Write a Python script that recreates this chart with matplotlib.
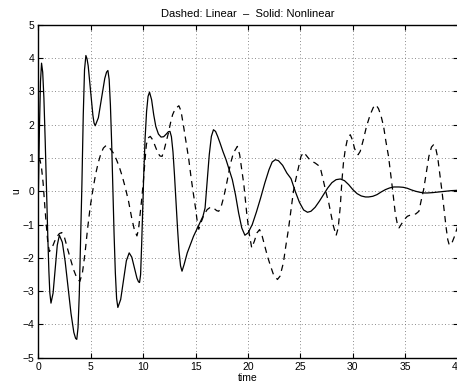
import matplotlib
matplotlib.use("Agg")
import matplotlib.pyplot as plt

# Nonlinear (solid) response
t_nonlinear = [0.0, 0.1, 0.2, 0.3, 0.41, 0.525, 0.65, 0.78, 0.9, 1.0, 1.09, 1.2,
               1.4, 1.6, 1.8, 2.0, 2.28, 2.55, 2.83, 3.11, 3.38, 3.55, 3.66,
               3.78, 3.9, 4.02, 4.15, 4.28, 4.4, 4.53, 4.64, 4.75, 4.97, 5.2, 5.31, 5.42,
               5.72, 6.03, 6.33, 6.5, 6.63, 6.75, 6.87, 6.99, 7.1, 7.22, 7.34, 7.46, 7.58,
               7.85, 8.12, 8.39, 8.66, 8.91, 9.16, 9.4, 9.55, 9.65,
               9.75, 9.85, 9.95, 10.05, 10.18, 10.32, 10.46, 10.6,
               10.8, 11.0, 11.2, 11.45, 11.7, 11.95, 12.2, 12.4, 12.55,
               12.69, 12.84, 12.98, 13.12, 13.27, 13.41, 13.56, 13.7,
               13.9, 14.2, 14.5, 14.8, 15.1, 15.4, 15.7, 15.9, 16.1, 16.3, 16.5, 16.7,
               16.9, 17.1, 17.33, 17.6, 17.9, 18.2, 18.5, 18.8, 19.1, 19.4, 19.7,
               20.0, 20.4, 20.8, 21.2, 21.6, 22.0, 22.3, 22.6,
               22.9, 23.3, 23.7, 24.1, 24.5, 24.9, 25.3, 25.67,
               26.0, 26.4, 26.8, 27.2, 27.6, 28.0, 28.4, 28.8,
               29.2, 29.6, 30.0, 30.4, 30.8, 31.2, 31.5,
               31.9, 32.3, 32.7, 33.1, 33.5, 33.9, 34.4,
               34.8, 35.2, 35.6, 36.0, 36.4, 36.8, 37.1,
               37.6, 38.2, 38.8, 39.4, 40.0]
u_nonlinear = [0.0, 1.9, 3.3, 3.85, 3.58, 2.8, 1.5, 0.0, -1.4, -2.4, -3.05, -3.36,
               -3.06, -2.34, -1.62, -1.32, -1.53, -2.1, -2.885, -3.67, -4.24, -4.42, -4.45,
               -4.1, -3.1, -1.5, 0.2, 2.3, 3.65, 4.08, 3.98, 3.77, 3.03, 2.28, 2.05, 1.97,
               2.21, 2.8, 3.39, 3.58, 3.63, 3.36, 2.59, 1.43, 0.07, -1.29, -2.45, -3.22, -3.49,
               -3.25, -2.67, -2.09, -1.85, -1.98, -2.3, -2.61, -2.72, -2.74,
               -2.5, -1.6, -0.5, 0.5, 1.6, 2.4, 2.85, 2.98,
               2.75, 2.3, 1.95, 1.72, 1.63, 1.64, 1.72, 1.79, 1.8,
               1.64, 1.18, 0.5, -0.3, -1.1, -1.78, -2.24, -2.4,
               -2.2, -1.85, -1.6, -1.35, -1.15, -0.95, -0.75, -0.5, 0.3, 1.1, 1.65, 1.85,
               1.8, 1.65, 1.45, 1.2, 0.95, 0.65, 0.35, -0.1, -0.65, -1.1, -1.32,
               -1.25, -1.0, -0.62, -0.2, 0.25, 0.65, 0.88, 0.95,
               0.92, 0.78, 0.55, 0.38, 0.0, -0.33, -0.56, -0.63,
               -0.6, -0.48, -0.3, -0.1, 0.1, 0.26, 0.35, 0.37,
               0.32, 0.2, 0.05, -0.07, -0.14, -0.17, -0.17,
               -0.15, -0.1, -0.02, 0.05, 0.1, 0.13, 0.13,
               0.12, 0.09, 0.04, 0.0, -0.03, -0.05, -0.05,
               -0.04, -0.02, 0.0, 0.02, 0.03]

# Linear (dashed) response
t_linear = [0.0, 0.15, 0.3, 0.45, 0.6, 0.75, 0.9, 1.05,
            1.3, 1.55, 1.8, 2.0, 2.23,
            2.5, 2.8, 3.03, 3.35, 3.66, 3.95,
            4.2, 4.45, 4.7, 4.95, 5.2, 5.45, 5.7, 5.95, 6.2, 6.47,
            6.8, 7.15, 7.45, 7.75, 8.0, 8.3, 8.6, 8.9, 9.15, 9.4,
            9.55, 9.7, 9.85, 10.0, 10.15, 10.3, 10.45, 10.67,
            10.9, 11.15, 11.4, 11.6, 11.8,
            12.0, 12.2, 12.4, 12.6, 12.8, 13.05, 13.4,
            13.6, 13.85, 14.1, 14.35, 14.55, 14.75, 14.97, 15.15, 15.3,
            15.5, 15.8, 16.1, 16.4, 16.7, 17.0, 17.2, 17.4, 17.7, 18.0, 18.3, 18.6, 18.98,
            19.2, 19.4, 19.6, 19.87, 20.1, 20.35,
            20.6, 20.85, 21.1,
            21.35, 21.6, 21.85, 22.1, 22.4, 22.8,
            23.05, 23.37, 23.6, 23.85, 24.1, 24.33, 24.55, 24.8, 25.05, 25.3,
            25.55, 25.8, 26.1, 26.4, 26.7, 26.9, 27.2, 27.45, 27.7, 27.95, 28.15, 28.4,
            28.6, 28.8, 28.95, 29.1, 29.27, 29.5, 29.75,
            29.95, 30.15, 30.35, 30.5,
            30.7, 31.0, 31.3, 31.65, 31.95, 32.2,
            32.45, 32.7, 32.93, 33.15, 33.4, 33.6, 33.75, 34.04, 34.25, 34.4,
            34.6, 34.9, 35.2, 35.6, 36.0, 36.3, 36.5, 36.75, 37.0, 37.25, 37.5, 37.7,
            37.9, 38.1, 38.3, 38.5, 38.7, 38.9, 39.05, 39.2, 39.45, 39.7, 40.0]
u_linear = [0.9, 0.95, 0.7, 0.25, -0.4, -1.0, -1.55, -1.81,
            -1.7, -1.5, -1.35, -1.27, -1.24,
            -1.4, -1.75, -2.0, -2.35, -2.6, -2.71,
            -2.45, -1.85, -1.1, -0.45, 0.05, 0.5, 0.85, 1.12, 1.3, 1.38,
            1.3, 1.15, 0.95, 0.7, 0.45, 0.1, -0.3, -0.8, -1.15, -1.34,
            -1.15, -0.7, -0.25, 0.25, 0.85, 1.4, 1.6, 1.65,
            1.55, 1.35, 1.15, 1.06, 1.05,
            1.25, 1.5, 1.75, 2.05, 2.3, 2.48, 2.57,
            2.42, 1.95, 1.45, 0.95, 0.45, 0.0, -0.46, -0.9, -1.14,
            -0.95, -0.7, -0.55, -0.48, -0.5, -0.58, -0.6, -0.5, -0.15, 0.3, 0.8, 1.15, 1.35,
            1.1, 0.65, 0.2, -0.65, -1.25, -1.7,
            -1.5, -1.25, -1.15,
            -1.35, -1.65, -1.95, -2.2, -2.48, -2.65,
            -2.55, -2.15, -1.65, -1.15, -0.55, 0.0, 0.35, 0.7, 1.05, 1.17,
            1.08, 0.98, 0.9, 0.85, 0.78, 0.7, 0.3, -0.05, -0.35, -0.75, -1.05, -1.33,
            -1.1, -0.45, 0.3, 0.85, 1.25, 1.6, 1.7,
            1.55, 1.3, 1.13, 1.1,
            1.2, 1.55, 1.95, 2.3, 2.52, 2.6,
            2.48, 2.25, 1.95, 1.5, 1.05, 0.55, 0.15, -0.65, -1.0, -1.1,
            -1.0, -0.85, -0.75, -0.7, -0.68, -0.6, -0.3, 0.05, 0.55, 1.05, 1.33, 1.4,
            1.3, 1.0, 0.5, 0.0, -0.55, -1.1, -1.45, -1.62, -1.55, -1.35, -1.05]

x_ticks = [0, 5, 10, 15, 20, 25, 30, 35, 40]
y_ticks = [-5, -4, -3, -2, -1, 0, 1, 2, 3, 4, 5]
title_text = "Dashed: Linear  \u2013  Solid: Nonlinear"

plt.rcParams['font.family'] = ['Liberation Sans', 'DejaVu Sans']

fig = plt.figure(figsize=(4.57, 3.81), dpi=100)
ax = fig.add_axes([38.4 / 457, 23.3 / 381, (457.7 - 38.4) / 457, (357.7 - 24.9) / 381])

ax.plot(t_linear, u_linear, color='black', lw=0.9, linestyle=(0, (5, 4)))
ax.plot(t_nonlinear, u_nonlinear, color='black', lw=0.9)

ax.set_xlim(0, 40)
ax.set_ylim(-5, 5)
ax.set_xticks(x_ticks)
ax.set_yticks(y_ticks)
ax.tick_params(direction='in', length=3.5, width=0.8, labelsize=7.5,
               top=True, right=True, pad=3)
ax.grid(True, color='0.4', linestyle=(0, (1, 3)), linewidth=0.6)
for s in ax.spines.values():
    s.set_linewidth(1.0)

ax.set_title(title_text, fontsize=8, pad=6)
ax.set_xlabel('time', fontsize=7.5, labelpad=1)
ax.set_ylabel('u', fontsize=7.5, labelpad=1)

fig.savefig('out.png', dpi=100)
